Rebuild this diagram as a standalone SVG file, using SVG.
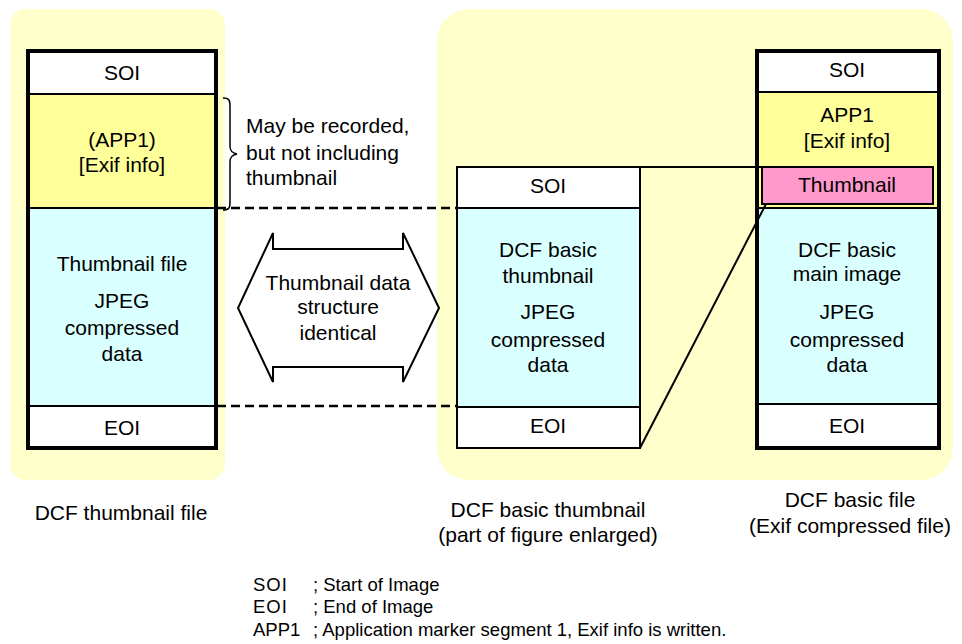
<svg xmlns="http://www.w3.org/2000/svg" width="962" height="644" viewBox="0 0 962 644">
<style>
text{font-family:"Liberation Sans",Arial,sans-serif;font-size:21px;fill:#000;text-anchor:middle}
.lg{font-size:18.5px;text-anchor:start}
.st{text-anchor:start}
.thin{stroke:#000;stroke-width:2;fill:none}
.thick{stroke:#000;stroke-width:4;fill:none}
.dash{stroke:#000;stroke-width:2.5;stroke-dasharray:9,5;fill:none}
</style>
<rect x="10" y="9" width="215" height="471" rx="16" fill="#ffffcc"/>
<rect x="437" y="9" width="516" height="471" rx="32" fill="#ffffcc"/>

<g id="thumbnail-file">
<rect x="28" y="51" width="188" height="43" fill="#fff"/>
<rect x="28" y="94" width="188" height="114" fill="#ffff99"/>
<rect x="28" y="208" width="188" height="198" fill="#d9ffff"/>
<rect x="28" y="406" width="188" height="42" fill="#fff"/>
<line x1="28" y1="94" x2="216" y2="94" class="thin"/>
<line x1="28" y1="208" x2="216" y2="208" class="thin"/>
<line x1="28" y1="406" x2="216" y2="406" class="thin"/>
<rect x="28" y="51" width="188" height="397" class="thick"/>
<line x1="30.5" y1="95" x2="30.5" y2="207" stroke="#ffff99" stroke-width="1" stroke-dasharray="3,3"/>
<text x="122" y="80">SOI</text>
<text x="122" y="147">(APP1)</text>
<text x="122" y="172">[Exif info]</text>
<text x="122" y="271">Thumbnail file</text>
<text x="122" y="308">JPEG</text>
<text x="122" y="335">compressed</text>
<text x="122" y="361">data</text>
<text x="122" y="435">EOI</text>
</g>

<g id="basic-thumbnail">
<rect x="457" y="167" width="183" height="41" fill="#fff"/>
<rect x="457" y="208" width="183" height="199" fill="#d9ffff"/>
<rect x="457" y="407" width="183" height="41" fill="#fff"/>
<line x1="457" y1="208" x2="640" y2="208" class="thin"/>
<line x1="457" y1="407" x2="640" y2="407" class="thin"/>
<rect x="457" y="167" width="183" height="281" class="thin"/>
<text x="548" y="193">SOI</text>
<text x="548" y="257">DCF basic</text>
<text x="548" y="283">thumbnail</text>
<text x="548" y="319">JPEG</text>
<text x="548" y="347">compressed</text>
<text x="548" y="372">data</text>
<text x="548" y="433">EOI</text>
</g>

<g id="basic-file">
<rect x="757" y="51" width="182" height="41" fill="#fff"/>
<rect x="757" y="92" width="182" height="116" fill="#ffff99"/>
<rect x="757" y="208" width="182" height="196" fill="#d9ffff"/>
<rect x="757" y="404" width="182" height="44" fill="#fff"/>
<line x1="757" y1="92" x2="939" y2="92" class="thin"/>
<line x1="757" y1="208" x2="939" y2="208" class="thin"/>
<line x1="757" y1="404" x2="939" y2="404" class="thin"/>
<rect x="757" y="51" width="182" height="397" class="thick"/>
<text x="847" y="77">SOI</text>
<text x="847" y="122">APP1</text>
<text x="847" y="148">[Exif info]</text>
<text x="847" y="257">DCF basic</text>
<text x="847" y="281">main image</text>
<text x="847" y="319">JPEG</text>
<text x="847" y="347">compressed</text>
<text x="847" y="372">data</text>
<text x="847" y="433">EOI</text>
</g>

<g id="thumbnail-segment">
<rect x="762" y="167" width="171" height="37" fill="#ff99cc" stroke="#000" stroke-width="2"/>
<text x="847" y="192">Thumbnail</text>
</g>

<g id="connectors">
<line x1="217" y1="208" x2="457" y2="208" class="dash"/>
<line x1="217" y1="406" x2="457" y2="406" class="dash"/>
<line x1="640" y1="167" x2="762" y2="167" class="thin"/>
<line x1="640" y1="448" x2="766" y2="204" class="thin"/>
<path d="M223,98 C229,98 230,100 230,106 L230,146 C230,151 232,153 237,154 C232,155 230,157 230,162 L230,202 C230,208 229,210 223,210" fill="none" stroke="#000" stroke-width="1.5"/>
</g>

<g id="brace-note">
<text class="st" x="246" y="133">May be recorded,</text>
<text class="st" x="246" y="160">but not including</text>
<text class="st" x="246" y="185">thumbnail</text>
</g>

<g id="identical-arrow">
<polygon points="273,233 273,249 403,249 403,233 439,308 403,382 403,367 273,367 273,382 238,308" fill="#fff" stroke="#000" stroke-width="2"/>
<text x="338" y="290">Thumbnail data</text>
<text x="338" y="314">structure</text>
<text x="338" y="340">identical</text>
</g>

<g id="captions">
<text x="121" y="520">DCF thumbnail file</text>
<text x="548" y="517">DCF basic thumbnail</text>
<text x="548" y="542">(part of figure enlarged)</text>
<text x="850" y="507">DCF basic file</text>
<text x="850" y="533">(Exif compressed file)</text>
</g>

<g id="legend">
<text class="lg" x="253" y="591" letter-spacing="1">SOI</text>
<text class="lg" x="313" y="591">; Start of Image</text>
<text class="lg" x="253" y="613" letter-spacing="1">EOI</text>
<text class="lg" x="313" y="613">; End of Image</text>
<text class="lg" x="253" y="636">APP1</text>
<text class="lg" x="313" y="636">; Application marker segment 1, Exif info is written.</text>
</g>
</svg>
